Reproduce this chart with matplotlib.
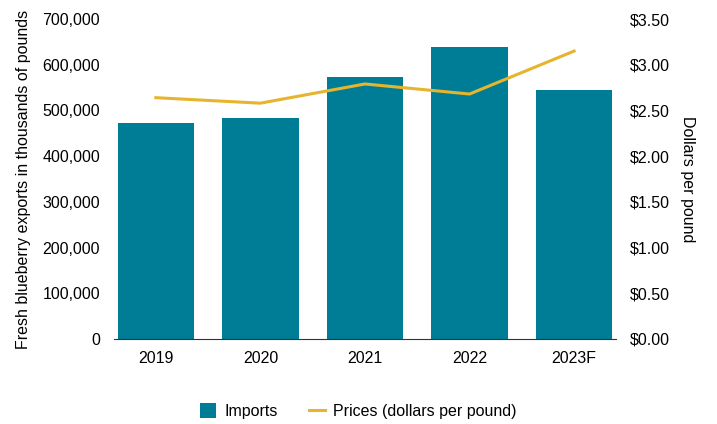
import numpy as np
import matplotlib.pyplot as plt
from matplotlib.ticker import FuncFormatter

plt.rcParams['font.family'] = ['Liberation Sans', 'DejaVu Sans']

years = ['2019', '2020', '2021', '2022', '2023F']
imports = [472000, 483000, 573000, 638000, 544000]
prices = [2.64, 2.58, 2.79, 2.68, 3.15]

bar_color = '#007D96'
line_color = '#E7B42D'

fig = plt.figure(figsize=(7.17, 4.24), dpi=100)
ax = fig.add_axes([0.159, 0.2005, 0.7, 0.7545])
x = np.arange(len(years))
bars = ax.bar(x, imports, width=0.73, color=bar_color, label='Imports', zorder=2)
ax.set_xlim(-0.4, 4.4)
ax.set_ylim(0, 700000)
ax.set_yticks(np.arange(0, 700001, 100000))
ax.yaxis.set_major_formatter(FuncFormatter(lambda v, p: f'{int(v):,}'))
ax.set_xticks(x)
ax.set_xticklabels(years)
ax.tick_params(axis='both', length=0, labelsize=11.5)
ax.tick_params(axis='x', pad=9)
ax.tick_params(axis='y', pad=10)
for s in ['top', 'right', 'left']:
    ax.spines[s].set_visible(False)
ax.spines['bottom'].set_color('#333333')
ax.spines['bottom'].set_zorder(3)
ax.set_ylabel('Fresh blueberry exports in thousands of pounds', fontsize=11.5, labelpad=8)

ax2 = ax.twinx()
line, = ax2.plot(x, prices, color=line_color, linewidth=2.2,
                 label='Prices (dollars per pound)', zorder=3)
ax2.set_ylim(0, 3.5)
ax2.set_yticks(np.arange(0, 3.51, 0.5))
ax2.yaxis.set_major_formatter(FuncFormatter(lambda v, p: f'${v:.2f}'))
ax2.tick_params(axis='y', length=0, labelsize=11.5, pad=10)
for s in ['top', 'right', 'left', 'bottom']:
    ax2.spines[s].set_visible(False)
ax2.set_ylabel('Dollars per pound', fontsize=11.5, rotation=270, labelpad=18)

fig.legend([bars, line], ['Imports', 'Prices (dollars per pound)'],
           loc='center', bbox_to_anchor=(0.5, 0.03), ncol=2, frameon=False,
           fontsize=11.5, handlelength=1.0, handleheight=1.0, columnspacing=2.0,
           handletextpad=0.5)

fig.savefig('out.png', dpi=100)
